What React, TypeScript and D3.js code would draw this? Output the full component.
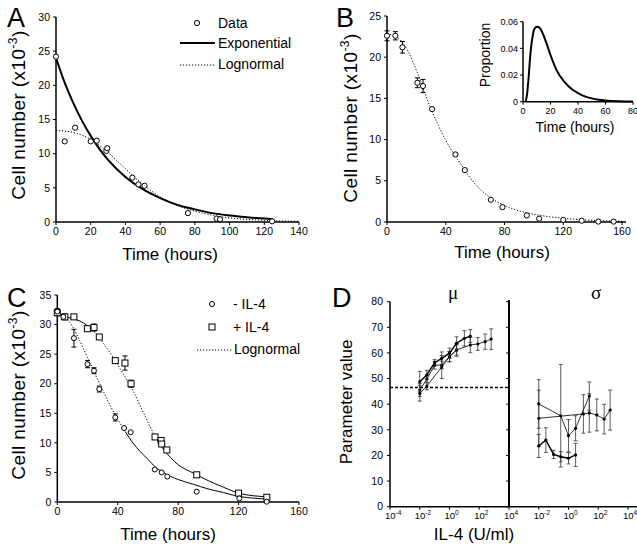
import React from "react";
import * as d3 from "d3";

const FONT = "'Liberation Sans', Arial, Helvetica, sans-serif";

// ---- Panel A ----
const aTime = [0, 5, 11, 20, 23.5, 29, 29.5, 44, 47.5, 51, 76, 92.5, 94.5, 124.5];
const aCells = [24.2, 11.8, 13.8, 11.8, 11.9, 10.4, 10.8, 6.5, 5.5, 5.3, 1.3, 0.5, 0.4, 0.1];
const aExpT = [0, 5, 10, 15, 20, 25, 30, 40, 50, 60, 70, 80, 90, 100, 110, 120, 125];
const aExpV = [24, 20.4, 17.4, 14.8, 12.6, 10.7, 9.1, 6.6, 4.8, 3.5, 2.5, 1.85, 1.3, 0.95, 0.7, 0.5, 0.43];
const aLogT = [0, 5, 10, 15, 20, 25, 30, 35, 40, 45, 50, 60, 70, 80, 90, 100, 110, 120, 130, 140];
const aLogV = [13.4, 13.3, 13.1, 12.7, 12.1, 11.2, 10.2, 9, 7.8, 6.6, 5.5, 3.7, 2.4, 1.6, 1.0, 0.6, 0.38, 0.24, 0.15, 0.1];

// ---- Panel B ----
const bTime = [0, 5.7, 10.5, 20.7, 24.5, 30.7, 46.6, 53, 70.7, 78.6, 95.2, 103.6, 120, 132.5, 143.9, 154.3];
const bCells = [22.6, 22.6, 21.2, 16.9, 16.5, 13.7, 8.2, 6.3, 2.7, 1.8, 0.8, 0.4, 0.25, 0.15, 0.05, 0.05];
const bErr = [0.6, 0.5, 0.7, 0.6, 0.8, 0, 0, 0, 0, 0, 0, 0, 0, 0, 0, 0];
const bFitT = [0, 5, 10, 15, 20, 25, 30, 35, 40, 45, 50, 60, 70, 80, 90, 100, 110, 120, 140, 160];
const bFitV = [22.8, 22.6, 21.9, 20.5, 18.4, 16, 13.7, 11.7, 9.9, 8.4, 7.1, 4.6, 3.0, 2.0, 1.35, 0.95, 0.65, 0.45, 0.2, 0.1];
const insetT = [2, 3, 4, 5, 6, 7, 8, 9, 10, 11, 12, 14, 16, 18, 20, 24.5, 30, 36, 40, 45, 50, 55, 60, 70, 80];
const insetP = [0, 0.006, 0.017, 0.031, 0.042, 0.049, 0.054, 0.0555, 0.0563, 0.056, 0.0555, 0.052, 0.047, 0.041, 0.035, 0.0235, 0.015, 0.009, 0.0065, 0.004, 0.0025, 0.0015, 0.0009, 0.0003, 0.0001];

// ---- Panel C ----
const cMinusT = [0, 4, 11, 20, 24.3, 27.8, 38.4, 44.2, 48.6, 64.5, 69.1, 72.8, 92.3, 120.5, 138.6];
const cMinusV = [32.2, 31.3, 27.7, 23.3, 22.2, 19.1, 14.3, 12.5, 11.8, 5.5, 5.0, 4.3, 1.75, 0.6, 0.05];
const cMinusE = [0.5, 0.4, 1.5, 0.6, 0.5, 0.5, 0.6, 0, 0, 0, 0, 0, 0, 0, 0];
const cPlusT = [0, 5, 11, 19.9, 24.3, 27.8, 38.4, 44.8, 48.8, 64.7, 68.7, 69.1, 72.5, 92.3, 120, 138.7];
const cPlusV = [32.0, 31.3, 31.3, 29.3, 29.5, 27.9, 23.9, 23.5, 20.0, 11.0, 10.4, 9.8, 8.8, 4.6, 1.5, 0.8];
const cPlusE = [0.5, 0.5, 0, 0, 0.6, 0, 0, 1.2, 0.6, 0, 0, 0, 0, 0, 0, 0];
const cMinusFitT = [0, 5, 10, 15, 20, 25, 30, 35, 40, 45, 50, 60, 65, 70, 80, 90, 100, 110, 120, 130, 138];
const cMinusFitV = [31.8, 31.3, 29.7, 27.2, 24.4, 21.6, 19, 16.3, 14, 11.9, 10, 7.2, 5.9, 5.0, 3.8, 3.0, 2.2, 1.6, 0.95, 0.65, 0.5];
const cPlusFitT = [0, 5, 10, 15, 20, 25, 30, 35, 40, 45, 50, 55, 60, 65, 70, 75, 80, 90, 100, 110, 120, 130, 138];
const cPlusFitV = [31.8, 31.4, 31, 30.6, 29.8, 28.6, 27, 25.2, 23.2, 21.1, 18.9, 16.2, 13.5, 10.9, 9.0, 7.5, 6.3, 4.9, 3.6, 2.5, 1.5, 1.05, 0.9];

// ---- Panel D ----
const muDose1 = [0.01, 0.03, 0.1, 0.3, 1, 3, 10, 25];
const muVal1 = [48.8, 51.4, 56.2, 57.9, 59.9, 63.8, 65.7, 66.6];
const muErr1 = [4, 1.8, 1.2, 2.5, 2, 2.5, 3, 2.5];
const muDose2 = [0.01, 0.03, 0.3, 1, 3, 25, 80, 250, 630];
const muVal2 = [44.2, 47.1, 54.5, 58.5, 61.2, 63.1, 63.5, 64.4, 65.4];
const muErr2 = [3, 1.5, 4.5, 2, 2.5, 3, 2.5, 3, 4];
const muDose3 = [0.01, 0.03, 0.1, 0.3, 1, 3];
const muVal3 = [45.5, 49.8, 55.2, 55.3, 58.6, 61.2];
const muErr3 = [2.5, 1.5, 1.5, 1.5, 2, 2];
const muRef = 46.5;
const sgDose1 = [0.01, 0.3, 1, 3, 25];
const sgVal1 = [40.1, 35.5, 27.7, 30.6, 43.2];
const sgErr1 = [9.5, 20, 6.3, 4.9, 5.5];
const sgDose2 = [0.01, 10, 25, 80, 250, 630];
const sgVal2 = [34.5, 36.2, 36.6, 35.8, 34.2, 37.7];
const sgErr2 = [11, 7.5, 7.5, 6.2, 5.8, 7.8];
const sgDose3 = [0.01, 0.03, 0.1, 0.3, 1, 3];
const sgVal3 = [23.7, 26.0, 20.4, 19.5, 18.9, 20.2];
const sgErr3 = [4.5, 4.8, 1.6, 2, 2.2, 4.5];
const logTicks = [1e-4, 1e-2, 1, 1e2, 1e4];
const logLabels = ["-4", "-2", "0", "2", "4"];

type Sc = d3.ScaleLinear<number, number> | d3.ScaleLogarithmic<number, number>;

const curvePath = (xs: number[], ys: number[], x: Sc, y: Sc, curve: any = d3.curveMonotoneX) =>
  d3.line<number>().x((d) => x(d)).y((_, i) => y(ys[i])).curve(curve)(xs) || "";

const segment = (xs: number[], ys: number[], lo: number, hi: number) => {
  const idx = xs.map((_, i) => i).filter((i) => xs[i] >= lo && xs[i] <= hi);
  return [idx.map((i) => xs[i]), idx.map((i) => ys[i])];
};

function YAxis({ scale, ticks, x, size = 10.5, fmt = (t: number) => String(t), gap = 6, width = 1.5 }: any) {
  const [r0, r1] = scale.range();
  return (
    <g>
      <line x1={x} x2={x} y1={r0} y2={r1} stroke="#000" strokeWidth={width} />
      {ticks.map((t: number) => (
        <g key={t}>
          <line x1={x - 3} x2={x} y1={scale(t)} y2={scale(t)} stroke="#000" strokeWidth={1} />
          <text x={x - gap} y={scale(t)} dy="0.35em" textAnchor="end" fontSize={size}>{fmt(t)}</text>
        </g>
      ))}
    </g>
  );
}

function XAxis({ scale, ticks, y, size = 10.5, gap = 13, width = 1.5, end }: any) {
  const [r0, r1] = scale.range();
  return (
    <g>
      <line x1={r0} x2={end ?? r1} y1={y} y2={y} stroke="#000" strokeWidth={width} />
      {ticks.map((t: number) => (
        <g key={t}>
          <line x1={scale(t)} x2={scale(t)} y1={y} y2={y + 3} stroke="#000" strokeWidth={1} />
          <text x={scale(t)} y={y + gap} textAnchor="middle" fontSize={size}>{t}</text>
        </g>
      ))}
    </g>
  );
}

function ErrBars({ xs, ys, es, x, y, cap = 2.5, color = "#000", sw = 1 }: any) {
  return (
    <g stroke={color} strokeWidth={sw}>
      {xs.map((t: number, i: number) =>
        es[i] > 0 ? (
          <g key={i}>
            <line x1={x(t)} x2={x(t)} y1={y(ys[i] - es[i])} y2={y(ys[i] + es[i])} />
            <line x1={x(t) - cap} x2={x(t) + cap} y1={y(ys[i] - es[i])} y2={y(ys[i] - es[i])} />
            <line x1={x(t) - cap} x2={x(t) + cap} y1={y(ys[i] + es[i])} y2={y(ys[i] + es[i])} />
          </g>
        ) : null
      )}
    </g>
  );
}

function Circles({ xs, ys, x, y, r = 2.6 }: any) {
  return (
    <g fill="#fff" stroke="#000" strokeWidth={1}>
      {xs.map((t: number, i: number) => <circle key={i} cx={x(t)} cy={y(ys[i])} r={r} />)}
    </g>
  );
}

function Squares({ xs, ys, x, y, s = 6 }: any) {
  return (
    <g fill="#fff" stroke="#000" strokeWidth={1}>
      {xs.map((t: number, i: number) => (
        <rect key={i} x={x(t) - s / 2} y={y(ys[i]) - s / 2} width={s} height={s} />
      ))}
    </g>
  );
}

function CellTitle({ x, y }: { x: number; y: number }) {
  return (
    <text transform={`translate(${x},${y}) rotate(-90)`} textAnchor="middle" fontSize={19} letterSpacing={0.4}>
      Cell number (x10<tspan fontSize={12} dy={-8}>-3</tspan><tspan dy={8}>)</tspan>
    </text>
  );
}

const DOT = "1.2,1.8";

function PanelA() {
  const x = d3.scaleLinear().domain([0, 140]).range([56, 299]);
  const y = d3.scaleLinear().domain([0, 30]).range([222, 17]);
  return (
    <g>
      <text x={7} y={27} fontSize={27}>A</text>
      <path d={curvePath(aLogT, aLogV, x, y)} fill="none" stroke="#000" strokeWidth={1} strokeDasharray={DOT} />
      <path d={curvePath(aExpT, aExpV, x, y)} fill="none" stroke="#000" strokeWidth={2} />
      <YAxis scale={y} ticks={d3.range(0, 31, 5)} x={56} />
      <XAxis scale={x} ticks={d3.range(0, 141, 20)} y={222} />
      <Circles xs={aTime} ys={aCells} x={x} y={y} />
      <CellTitle x={25} y={115} />
      <text x={170} y={260} textAnchor="middle" fontSize={17}>Time (hours)</text>
      <circle cx={197} cy={23} r={2.6} fill="#fff" stroke="#000" />
      <text x={218} y={28} fontSize={14}>Data</text>
      <line x1={180} x2={215} y1={43} y2={43} stroke="#000" strokeWidth={2} />
      <text x={218} y={48} fontSize={14}>Exponential</text>
      <line x1={180} x2={215} y1={65} y2={65} stroke="#000" strokeWidth={1} strokeDasharray={DOT} />
      <text x={218} y={69} fontSize={14}>Lognormal</text>
    </g>
  );
}

function PanelB() {
  const x = d3.scaleLinear().domain([0, 160]).range([387, 622]);
  const y = d3.scaleLinear().domain([0, 25]).range([222, 16]);
  const xi = d3.scaleLinear().domain([0, 80]).range([523, 633]);
  const yi = d3.scaleLinear().domain([0, 0.06]).range([101.7, 21.7]);
  return (
    <g>
      <text x={336} y={27} fontSize={27}>B</text>
      <path d={curvePath(bFitT, bFitV, x, y)} fill="none" stroke="#000" strokeWidth={1} strokeDasharray={DOT} />
      <YAxis scale={y} ticks={d3.range(0, 26, 5)} x={387} />
      <XAxis scale={x} ticks={d3.range(0, 161, 40)} y={222} end={626} />
      <ErrBars xs={bTime} ys={bCells} es={bErr} x={x} y={y} />
      <Circles xs={bTime} ys={bCells} x={x} y={y} />
      <CellTitle x={357} y={118} />
      <text x={502} y={258} textAnchor="middle" fontSize={17}>Time (hours)</text>
      {/* inset */}
      <path d={curvePath(insetT, insetP, xi, yi)} fill="none" stroke="#000" strokeWidth={2} />
      <YAxis scale={yi} ticks={[0, 0.02, 0.04, 0.06]} x={523} size={9} gap={5}
        fmt={(t: number) => (t === 0 ? "0" : d3.format(".2f")(t))} />
      <XAxis scale={xi} ticks={d3.range(0, 81, 20)} y={101.7} size={9} gap={12} />
      <text transform="translate(490,55) rotate(-90)" textAnchor="middle" fontSize={14}>Proportion</text>
      <text x={575} y={132} textAnchor="middle" fontSize={14}>Time (hours)</text>
    </g>
  );
}

function PanelC() {
  const x = d3.scaleLinear().domain([0, 160]).range([57.3, 299]);
  const y = d3.scaleLinear().domain([0, 35]).range([502, 295]);
  const [m1t, m1v] = segment(cMinusFitT, cMinusFitV, 0, 45);
  const [m2t, m2v] = segment(cMinusFitT, cMinusFitV, 45, 200);
  const [p0t, p0v] = segment(cPlusFitT, cPlusFitV, 0, 20);
  const [p1t, p1v] = segment(cPlusFitT, cPlusFitV, 20, 65);
  const [p2t, p2v] = segment(cPlusFitT, cPlusFitV, 65, 200);
  return (
    <g>
      <text x={7} y={307} fontSize={27}>C</text>
      <g fill="none" stroke="#000" strokeWidth={1}>
        <path d={curvePath(m1t, m1v, x, y)} strokeDasharray={DOT} />
        <path d={curvePath(m2t, m2v, x, y)} />
        <path d={curvePath(p0t, p0v, x, y)} />
        <path d={curvePath(p1t, p1v, x, y)} strokeDasharray={DOT} />
        <path d={curvePath(p2t, p2v, x, y)} />
      </g>
      <YAxis scale={y} ticks={d3.range(0, 36, 5)} x={57.3} />
      <XAxis scale={x} ticks={d3.range(0, 161, 40)} y={502} />
      <ErrBars xs={cMinusT} ys={cMinusV} es={cMinusE} x={x} y={y} />
      <ErrBars xs={cPlusT} ys={cPlusV} es={cPlusE} x={x} y={y} />
      <Squares xs={cPlusT} ys={cPlusV} x={x} y={y} />
      <Circles xs={cMinusT} ys={cMinusV} x={x} y={y} r={2.5} />
      <CellTitle x={25} y={395} />
      <text x={168} y={540} textAnchor="middle" fontSize={17}>Time (hours)</text>
      <circle cx={212} cy={304} r={2.5} fill="#fff" stroke="#000" />
      <text x={233} y={309} fontSize={14}>- IL-4</text>
      <rect x={209} y={324} width={6} height={6} fill="#fff" stroke="#000" />
      <text x={233} y={332} fontSize={14}>+ IL-4</text>
      <line x1={197} x2={233} y1={350} y2={350} stroke="#000" strokeDasharray={DOT} />
      <text x={234} y={354} fontSize={14}>Lognormal</text>
    </g>
  );
}

function DSeries({ xs, ys, es, x, y, sw }: any) {
  return (
    <g>
      <ErrBars xs={xs} ys={ys} es={es} x={x} y={y} cap={2} color="#333" sw={0.8} />
      <path d={curvePath(xs, ys, x, y, d3.curveLinear)} fill="none" stroke="#000" strokeWidth={sw} />
      <g fill="#000">
        {xs.map((t: number, i: number) => <circle key={i} cx={x(t)} cy={y(ys[i])} r={1.6} />)}
      </g>
    </g>
  );
}

function LogAxis({ scale, skipFirst, y }: any) {
  return (
    <g>
      {logTicks.map((t, i) =>
        skipFirst && i === 0 ? null : (
          <g key={t}>
            <line x1={scale(t)} x2={scale(t)} y1={y} y2={y + 3} stroke="#000" />
            <text x={scale(t) - 5} y={y + 12} fontSize={9.5}>
              10<tspan fontSize={6.5} dy={-4}>{logLabels[i]}</tspan>
            </text>
          </g>
        )
      )}
    </g>
  );
}

function PanelD() {
  const y = d3.scaleLinear().domain([0, 80]).range([506.7, 301.7]);
  const xl = d3.scaleLog().domain([1e-4, 1e4]).range([390, 509]);
  const xr = d3.scaleLog().domain([1e-4, 1e4]).range([509, 628]);
  return (
    <g>
      <text x={332} y={307} fontSize={27}>D</text>
      <text x={453} y={299} textAnchor="middle" fontSize={19} fontFamily="'Liberation Serif', serif">μ</text>
      <text x={596} y={299} textAnchor="middle" fontSize={19} fontFamily="'Liberation Serif', serif">σ</text>
      <line x1={390} x2={509} y1={y(muRef)} y2={y(muRef)} stroke="#000" strokeWidth={1.6} strokeDasharray="3,2" />
      <DSeries xs={muDose3} ys={muVal3} es={muErr3} x={xl} y={y} sw={0.8} />
      <DSeries xs={muDose2} ys={muVal2} es={muErr2} x={xl} y={y} sw={0.8} />
      <DSeries xs={muDose1} ys={muVal1} es={muErr1} x={xl} y={y} sw={1.4} />
      <DSeries xs={sgDose2} ys={sgVal2} es={sgErr2} x={xr} y={y} sw={0.8} />
      <DSeries xs={sgDose1} ys={sgVal1} es={sgErr1} x={xr} y={y} sw={0.8} />
      <DSeries xs={sgDose3} ys={sgVal3} es={sgErr3} x={xr} y={y} sw={1.4} />
      <YAxis scale={y} ticks={d3.range(0, 81, 10)} x={390} gap={7} />
      <line x1={509} x2={509} y1={506.7} y2={300} stroke="#000" strokeWidth={2} />
      {d3.range(0, 81, 10).map((t) => (
        <line key={t} x1={506} x2={509} y1={y(t)} y2={y(t)} stroke="#000" />
      ))}
      <line x1={390} x2={637} y1={506.7} y2={506.7} stroke="#000" strokeWidth={1.5} />
      <LogAxis scale={xl} y={506.7} />
      <LogAxis scale={xr} y={506.7} skipFirst />
      <text transform="translate(352,402) rotate(-90)" textAnchor="middle" fontSize={17}>Parameter value</text>
      <text x={474} y={540} textAnchor="middle" fontSize={17}>IL-4 (U/ml)</text>
    </g>
  );
}

export default function App() {
  return (
    <svg width={637} height={549} fontFamily={FONT}
      style={{ position: "absolute", left: 0, top: 0, background: "#fff" }}>
      <PanelA />
      <PanelB />
      <PanelC />
      <PanelD />
    </svg>
  );
}
